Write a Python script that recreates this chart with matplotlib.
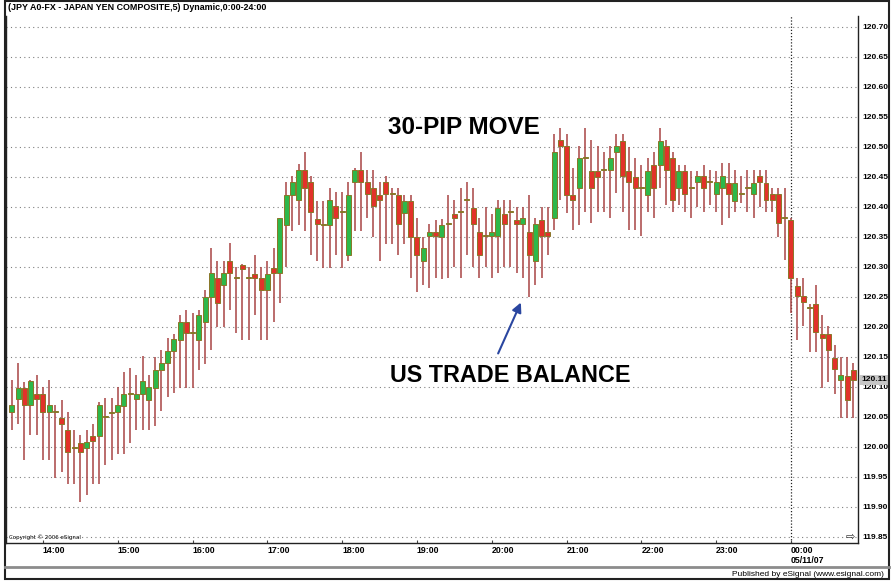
import numpy as np
import pandas as pd
import matplotlib.pyplot as plt
from matplotlib.patches import Rectangle
from matplotlib.lines import Line2D

# Barres 5 minutes USD/JPY, 10/05/2007 13:35 -> 11/05/2007 00:50
opens = [120.058, 120.080, 120.099, 120.070, 120.089, 120.089, 120.059, 120.058, 120.049, 120.028,
         119.999, 120.007, 119.999, 120.018, 120.018, 120.050, 120.057, 120.059, 120.069, 120.089,
         120.080, 120.089, 120.079, 120.099, 120.129, 120.140, 120.160, 120.179, 120.209, 120.190,
         120.179, 120.209, 120.250, 120.281, 120.270, 120.310, 120.281, 120.303, 120.281, 120.289,
         120.281, 120.262, 120.299, 120.290, 120.370, 120.420, 120.412, 120.461, 120.441, 120.380,
         120.370, 120.370, 120.401, 120.392, 120.320, 120.441, 120.461, 120.441, 120.431, 120.420,
         120.441, 120.421, 120.420, 120.390, 120.410, 120.350, 120.310, 120.352, 120.359, 120.350,
         120.371, 120.389, 120.392, 120.412, 120.399, 120.359, 120.352, 120.352, 120.352, 120.389,
         120.392, 120.379, 120.371, 120.359, 120.310, 120.379, 120.359, 120.381, 120.511, 120.501,
         120.420, 120.432, 120.482, 120.460, 120.460, 120.462, 120.462, 120.492, 120.510, 120.460,
         120.450, 120.432, 120.420, 120.470, 120.470, 120.501, 120.481, 120.432, 120.460, 120.432,
         120.442, 120.451, 120.441, 120.421, 120.431, 120.440, 120.410, 120.422, 120.431, 120.422,
         120.451, 120.440, 120.421, 120.421, 120.381, 120.379, 120.268, 120.251, 120.231, 120.239,
         120.189, 120.189, 120.149, 120.112, 120.118, 120.129]
highs = [120.112, 120.140, 120.109, 120.111, 120.120, 120.100, 120.112, 120.070, 120.078, 120.059,
         120.028, 120.020, 120.028, 120.039, 120.075, 120.081, 120.081, 120.100, 120.125, 120.131,
         120.120, 120.151, 120.120, 120.150, 120.161, 120.181, 120.189, 120.220, 120.228, 120.223,
         120.228, 120.262, 120.331, 120.310, 120.310, 120.340, 120.300, 120.305, 120.300, 120.320,
         120.300, 120.310, 120.331, 120.381, 120.442, 120.451, 120.472, 120.491, 120.451, 120.410,
         120.410, 120.431, 120.425, 120.425, 120.441, 120.465, 120.491, 120.461, 120.461, 120.441,
         120.451, 120.431, 120.431, 120.420, 120.420, 120.381, 120.350, 120.372, 120.378, 120.380,
         120.420, 120.412, 120.431, 120.441, 120.431, 120.381, 120.400, 120.389, 120.412, 120.412,
         120.412, 120.400, 120.400, 120.420, 120.381, 120.400, 120.400, 120.522, 120.531, 120.522,
         120.465, 120.501, 120.532, 120.512, 120.502, 120.492, 120.502, 120.521, 120.521, 120.500,
         120.481, 120.470, 120.481, 120.492, 120.532, 120.512, 120.492, 120.470, 120.470, 120.460,
         120.460, 120.470, 120.462, 120.460, 120.473, 120.473, 120.462, 120.451, 120.462, 120.462,
         120.462, 120.462, 120.431, 120.431, 120.431, 120.381, 120.281, 120.281, 120.239, 120.270,
         120.220, 120.201, 120.170, 120.150, 120.150, 120.140]
lows = [120.028, 120.039, 119.978, 120.020, 120.020, 119.978, 119.978, 119.948, 119.959, 119.939,
        119.939, 119.909, 119.920, 119.939, 119.939, 119.970, 119.978, 119.989, 119.989, 120.007,
        120.028, 120.028, 120.028, 120.035, 120.060, 120.084, 120.090, 120.098, 120.098, 120.098,
        120.128, 120.139, 120.162, 120.200, 120.200, 120.228, 120.190, 120.179, 120.179, 120.220,
        120.179, 120.179, 120.209, 120.240, 120.300, 120.360, 120.370, 120.360, 120.320, 120.310,
        120.299, 120.299, 120.320, 120.299, 120.310, 120.360, 120.360, 120.381, 120.350, 120.310,
        120.339, 120.339, 120.320, 120.339, 120.281, 120.259, 120.270, 120.265, 120.281, 120.280,
        120.281, 120.300, 120.281, 120.320, 120.300, 120.281, 120.300, 120.281, 120.290, 120.300,
        120.300, 120.290, 120.281, 120.250, 120.270, 120.281, 120.320, 120.362, 120.412, 120.390,
        120.362, 120.370, 120.392, 120.373, 120.392, 120.392, 120.381, 120.423, 120.392, 120.362,
        120.362, 120.351, 120.392, 120.381, 120.432, 120.403, 120.392, 120.403, 120.392, 120.381,
        120.400, 120.392, 120.403, 120.392, 120.370, 120.381, 120.392, 120.406, 120.392, 120.381,
        120.400, 120.392, 120.392, 120.350, 120.312, 120.223, 120.179, 120.201, 120.159, 120.159,
        120.098, 120.109, 120.089, 120.049, 120.049, 120.049]
closes = [120.070, 120.099, 120.070, 120.110, 120.080, 120.059, 120.070, 120.058, 120.039, 119.991,
          120.000, 119.991, 120.008, 120.010, 120.070, 120.050, 120.059, 120.070, 120.089, 120.089,
          120.089, 120.110, 120.100, 120.129, 120.140, 120.160, 120.180, 120.209, 120.190, 120.190,
          120.220, 120.250, 120.290, 120.240, 120.290, 120.290, 120.281, 120.297, 120.281, 120.282,
          120.262, 120.289, 120.290, 120.381, 120.420, 120.441, 120.461, 120.431, 120.392, 120.372,
          120.370, 120.412, 120.381, 120.392, 120.420, 120.461, 120.441, 120.421, 120.401, 120.412,
          120.421, 120.421, 120.372, 120.410, 120.350, 120.320, 120.331, 120.359, 120.352, 120.370,
          120.371, 120.381, 120.392, 120.412, 120.371, 120.320, 120.352, 120.359, 120.399, 120.371,
          120.392, 120.371, 120.381, 120.320, 120.371, 120.352, 120.352, 120.491, 120.502, 120.420,
          120.412, 120.481, 120.482, 120.432, 120.450, 120.462, 120.482, 120.502, 120.452, 120.442,
          120.432, 120.432, 120.460, 120.432, 120.510, 120.462, 120.412, 120.460, 120.421, 120.432,
          120.451, 120.432, 120.441, 120.441, 120.452, 120.422, 120.440, 120.422, 120.431, 120.440,
          120.442, 120.412, 120.412, 120.373, 120.381, 120.281, 120.251, 120.241, 120.231, 120.191,
          120.181, 120.161, 120.130, 120.120, 120.079, 120.112]

times = pd.date_range('2007-05-10 13:35', periods=len(closes), freq='5min')

price_ticks = [119.85, 119.90, 119.95, 120.00, 120.05, 120.10, 120.15, 120.20, 120.25,
               120.30, 120.35, 120.40, 120.45, 120.50, 120.55, 120.60, 120.65, 120.70]

titre = '(JPY A0-FX - JAPAN YEN COMPOSITE,5) Dynamic,0:00-24:00'

# Pixels -> fraction de figure
W, H = 892, 581
def fx(x): return x / W
def fy(y): return 1 - y / H

fig = plt.figure(figsize=(W / 100, H / 100), dpi=100)
ax = fig.add_axes([fx(6), fy(543), fx(858) - fx(6), fy(16) - fy(543)])

o = np.array(opens); h = np.array(highs); l = np.array(lows); c = np.array(closes)
x = np.arange(len(c))
up = c >= o

# grille horizontale pointillée
for p in price_ticks:
    ax.axhline(p, color='#808080', lw=0.8, ls=(0, (1, 3)), zorder=1)

# chandeliers
ax.vlines(x, l, h, color='#a84444', lw=1.1, zorder=2)
ax.bar(x, np.maximum(np.abs(c - o), 0.0018), bottom=np.minimum(o, c), width=0.8,
       color=np.where(up, '#2db84a', '#e2322a'), edgecolor='#8a7628', linewidth=0.7, zorder=3)

# ligne de minuit
minuit = [i for i, t in enumerate(times) if t.hour == 0 and t.minute == 0]
for i in minuit:
    ax.axvline(i, color='#222222', lw=0.9, ls=(0, (1, 1.5)), zorder=1.5)

ax.set_xlim(-0.93, 135.76)
ax.set_ylim(119.84, 120.7183)

# axe des prix à droite
ax.yaxis.tick_right()
ax.set_yticks(price_ticks)
ax.set_yticklabels([f'{p:.2f}' for p in price_ticks], fontsize=6, fontweight='bold',
                   family='Liberation Sans')
ax.tick_params(axis='y', length=0, pad=3)

# axe du temps
heures = [i for i, t in enumerate(times) if t.minute == 0]
etiquettes = [t.strftime('%H:%M') if t.hour else t.strftime('%H:%M\n%m/%d/%y')
              for t in times[heures]]
ax.set_xticks(heures)
ax.set_xticklabels(etiquettes, fontsize=6.3, fontweight='bold', family='Liberation Sans',
                   ha='left', linespacing=1.15)
ax.tick_params(axis='x', length=2, direction='in', pad=2, color='#444444')

for s in ['left', 'right', 'bottom']:
    ax.spines[s].set_color('#222222')
    ax.spines[s].set_linewidth(1)
ax.spines['top'].set_visible(False)

# prix courant
ax.text(1 + 3 / 852, c[-1], f'{c[-1]:.2f}', transform=ax.get_yaxis_transform(),
        ha='left', va='center', fontsize=6, fontweight='bold', family='Liberation Sans',
        bbox=dict(fc='#c6c6c6', ec='none', pad=1.2), zorder=5)

# textes
fig.text(fx(8), fy(8), titre, fontsize=6.4, fontweight='bold', family='Liberation Sans',
         ha='left', va='center')
fig.text(fx(388), fy(128), '30-PIP MOVE', fontsize=17.5, fontweight='bold',
         family='Liberation Sans', ha='left', va='center')
fig.text(fx(390), fy(376), 'US TRADE BALANCE', fontsize=16.8, fontweight='bold',
         family='Liberation Sans', ha='left', va='center')
ax.annotate('', xy=(fx(522), fy(300)), xytext=(fx(497), fy(356)),
            xycoords='figure fraction', textcoords='figure fraction',
            arrowprops=dict(arrowstyle='-|>', color='#2a46a0', lw=1.5, mutation_scale=14))

fig.text(fx(9), fy(537), 'Copyright © 2006 eSignal', fontsize=4, ha='left', va='center')
fig.text(fx(850), fy(537), '⇨', fontsize=8, ha='center', va='center', color='#333333')

# pied de page et cadre
fig.add_artist(Line2D([fx(5), fx(889)], [fy(567), fy(567)], color='#8c8c8c', lw=2))
fig.text(fx(884), fy(574), 'Published by eSignal (www.esignal.com)', fontsize=6,
         family='Liberation Sans', ha='right', va='center')
fig.add_artist(Rectangle((fx(5), fy(579)), fx(889) - fx(5), fy(1) - fy(579),
                         transform=fig.transFigure, fill=False, ec='#222222', lw=1.5))

fig.savefig('out.png', dpi=100)
